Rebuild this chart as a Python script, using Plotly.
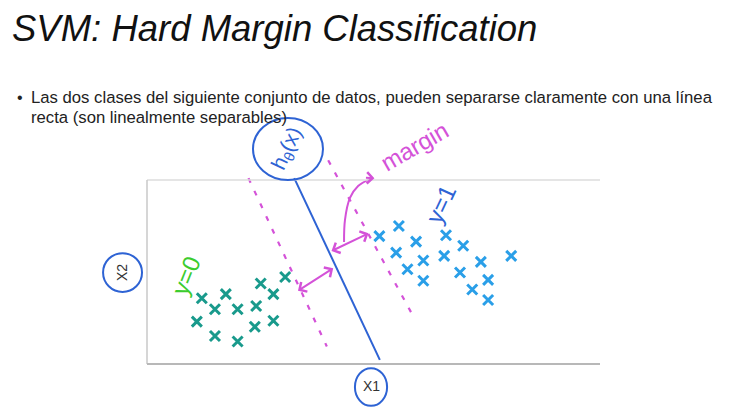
import plotly.graph_objects as go

# ---- data (box units: x 0..10, y 0..4) ----
class0_x = [1.21, 1.74, 1.50, 2.00, 2.41, 2.51, 2.79, 3.05, 1.10, 1.50, 2.00, 2.38, 2.79]
class0_y = [1.43, 1.52, 1.19, 1.19, 1.26, 1.75, 1.52, 1.89, 0.92, 0.61, 0.49, 0.81, 0.94]
class1_x = [5.13, 5.56, 5.94, 6.60, 5.50, 6.10, 6.56, 6.98, 5.75, 6.10, 6.91, 7.37, 8.04, 7.18, 7.53, 7.53]
class1_y = [2.78, 3.00, 2.66, 2.80, 2.42, 2.25, 2.35, 2.57, 2.06, 1.81, 1.99, 2.22, 2.35, 1.62, 1.83, 1.39]

boundary_x = [3.25, 5.14]
boundary_y = [4.04, 0.09]
margin_left_x = [2.24, 3.97]
margin_left_y = [4.04, 0.38]
margin_right_x = [4.00, 5.92]
margin_right_y = [4.43, 0.96]

curve_x = [4.35, 4.37, 4.48, 4.66, 4.92]
curve_y = [2.65, 3.13, 3.61, 3.87, 4.02]

title_text = "<i>SVM: Hard Margin Classification</i>"
bullet_line1 = "Las dos clases del siguiente conjunto de datos, pueden separarse claramente con una línea"
bullet_line2 = "recta (son linealmente separables)"

MAG = "#d452d8"
BLUE = "#2e63d4"
TEAL = "#199a8c"
LBLUE = "#2a9fe8"
GREEN = "#3ccc2e"

fig = go.Figure()

# plot frame
fig.add_shape(type="line", x0=0, x1=10, y0=4, y1=4, line=dict(color="#dcdcdc", width=1.5))
fig.add_shape(type="line", x0=0, x1=0, y0=0, y1=4, line=dict(color="#c8c8c8", width=1.5))
fig.add_shape(type="line", x0=0, x1=10, y0=0, y1=0, line=dict(color="#b8b8b8", width=2))

# margins and boundary
fig.add_trace(go.Scatter(x=margin_left_x, y=margin_left_y, mode="lines",
                         line=dict(color=MAG, width=2.2, dash="5px,9px")))
fig.add_trace(go.Scatter(x=margin_right_x, y=margin_right_y, mode="lines",
                         line=dict(color=MAG, width=2.2, dash="5px,9px")))
fig.add_trace(go.Scatter(x=boundary_x, y=boundary_y, mode="lines",
                         line=dict(color=BLUE, width=2)))
fig.add_trace(go.Scatter(x=curve_x, y=curve_y, mode="lines", line_shape="spline",
                         line=dict(color=MAG, width=2)))

# points
fig.add_trace(go.Scatter(x=class0_x, y=class0_y, mode="markers",
                         marker=dict(symbol="x-thin", size=10, color=TEAL,
                                     line=dict(color=TEAL, width=3))))
fig.add_trace(go.Scatter(x=class1_x, y=class1_y, mode="markers",
                         marker=dict(symbol="x-thin", size=10, color=LBLUE,
                                     line=dict(color=LBLUE, width=3))))

# circles
fig.add_shape(type="circle", x0=2.34, x1=3.885, y0=4.0, y1=5.35, line=dict(color=BLUE, width=2))
fig.add_shape(type="circle", x0=-0.97, x1=-0.11, y0=1.565, y1=2.41, line=dict(color=BLUE, width=2))
fig.add_shape(type="circle", x0=4.59, x1=5.30, y0=-0.91, y1=-0.09, line=dict(color=BLUE, width=2))

anns = []
# double arrows
for (x0, y0, x1, y1) in [(3.30, 1.57, 4.11, 2.08), (4.04, 2.44, 4.89, 2.84)]:
    anns.append(dict(x=x1, y=y1, ax=x0, ay=y0, xref="x", yref="y", axref="x", ayref="y",
                     text="", showarrow=True, arrowhead=4, startarrowhead=4,
                     arrowside="end+start", arrowwidth=2, arrowsize=1.1, startarrowsize=1.1,
                     arrowcolor=MAG))
anns.append(dict(x=5.02, y=4.04, ax=4.80, ay=4.05, xref="x", yref="y", axref="x", ayref="y",
                 text="", showarrow=True, arrowhead=4, arrowwidth=2, arrowsize=1.1, arrowcolor=MAG))

hand = "Liberation Sans"
anns += [
    dict(x=3.09, y=4.68, xref="x", yref="y", text="h<sub>θ</sub>(x)", showarrow=False,
         textangle=-65, font=dict(family=hand, size=21, color=BLUE)),
    dict(x=5.90, y=4.72, xref="x", yref="y", text="margin", showarrow=False,
         textangle=-30, font=dict(family=hand, size=24, color=MAG)),
    dict(x=0.86, y=1.93, xref="x", yref="y", text="y=0", showarrow=False,
         textangle=-68, font=dict(family=hand, size=24, color=GREEN)),
    dict(x=6.49, y=3.46, xref="x", yref="y", text="y=1", showarrow=False,
         textangle=-65, font=dict(family=hand, size=24, color=BLUE)),
    dict(x=-0.54, y=1.99, xref="x", yref="y", text="X2", showarrow=False,
         textangle=-90, font=dict(family="Liberation Sans", size=14, color="#333333")),
    dict(x=4.95, y=-0.48, xref="x", yref="y", text="X1", showarrow=False,
         font=dict(family="Liberation Sans", size=14, color="#333333")),
    dict(x=10/736, y=1-28/410, xref="paper", yref="paper", xanchor="left", yanchor="middle",
         text=title_text, showarrow=False, font=dict(family="Liberation Sans", size=36.5, color="#111111")),
    dict(x=15/736, y=1-97/410, xref="paper", yref="paper", xanchor="left", yanchor="middle",
         text="•", showarrow=False, font=dict(family="Liberation Sans", size=16, color="#222222")),
    dict(x=29/736, y=1-97/410, xref="paper", yref="paper", xanchor="left", yanchor="middle",
         text=bullet_line1, showarrow=False, font=dict(family="Liberation Sans", size=16.7, color="#222222")),
    dict(x=29/736, y=1-117/410, xref="paper", yref="paper", xanchor="left", yanchor="middle",
         text=bullet_line2, showarrow=False, font=dict(family="Liberation Sans", size=16.7, color="#222222")),
]

fig.update_layout(
    width=736, height=410,
    margin=dict(l=0, r=0, t=0, b=0),
    paper_bgcolor="white", plot_bgcolor="white",
    showlegend=False,
    xaxis=dict(range=[-147/45.3, 589/45.3], visible=False, fixedrange=True),
    yaxis=dict(range=[-46/46, 364/46], visible=False, fixedrange=True),
    annotations=anns,
)

fig.write_html("out.html", config={"displayModeBar": False},
               post_script="document.body.style.margin='0';document.body.style.overflow='hidden';")
